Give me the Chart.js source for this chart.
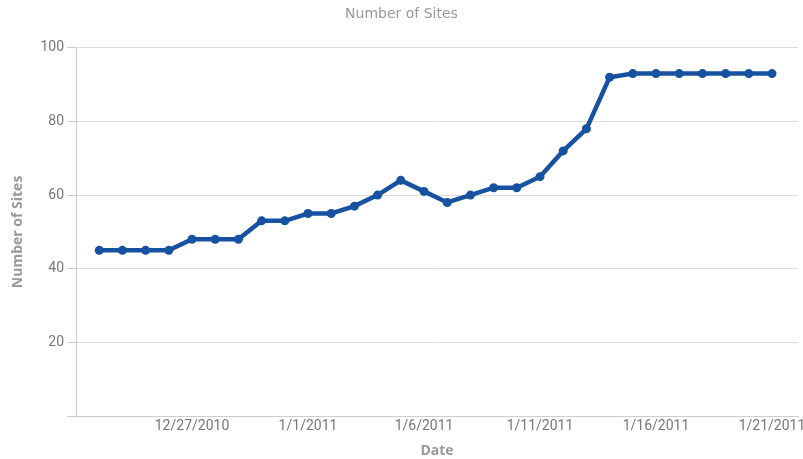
<!DOCTYPE html>
<html lang="en">
<head>
<meta charset="utf-8">
<title>Number of Sites</title>
<script src="https://cdn.jsdelivr.net/npm/chart.js@4"></script>
<style>
  html, body { margin: 0; padding: 0; background: #fff; }
  #wrap { position: relative; width: 803px; height: 459px; }
</style>
</head>
<body>
<div id="wrap"><canvas id="myChart"></canvas></div>
<script>
const dates = [
  '12/23/2010', '12/24/2010', '12/25/2010', '12/26/2010', '12/27/2010',
  '12/28/2010', '12/29/2010', '12/30/2010', '12/31/2010', '1/1/2011',
  '1/2/2011', '1/3/2011', '1/4/2011', '1/5/2011', '1/6/2011',
  '1/7/2011', '1/8/2011', '1/9/2011', '1/10/2011', '1/11/2011',
  '1/12/2011', '1/13/2011', '1/14/2011', '1/15/2011', '1/16/2011',
  '1/17/2011', '1/18/2011', '1/19/2011', '1/20/2011', '1/21/2011'
];
const sites = [
  45, 45, 45, 45, 48,
  48, 48, 53, 53, 55,
  55, 57, 60, 64, 61,
  58, 60, 62, 62, 65,
  72, 78, 92, 93, 93,
  93, 93, 93, 93, 93
];
const xTickLabels = ['12/27/2010', '1/1/2011', '1/6/2011', '1/11/2011', '1/16/2011', '1/21/2011'];
const yTicks = [0, 20, 40, 60, 80, 100];

const blue = 'rgb(22, 82, 160)';
const points = sites.map((v, i) => ({ x: i, y: v }));

new Chart(document.getElementById('myChart'), {
  type: 'line',
  data: {
    datasets: [{
      label: 'Number of Sites',
      data: points,
      borderColor: blue,
      backgroundColor: blue,
      borderWidth: 4.5,
      pointRadius: 4.5,
      pointBorderWidth: 0,
      tension: 0
    }]
  },
  options: {
    responsive: true,
    maintainAspectRatio: false,
    animation: false,
    layout: { padding: { left: 0, right: 0, top: 0, bottom: 0 } },
    plugins: {
      legend: { display: false },
      tooltip: { enabled: false },
      title: {
        display: true,
        text: 'Number of Sites',
        color: '#999',
        font: { family: 'DejaVu Sans', size: 14, weight: 'normal' },
        padding: { top: 6, bottom: 25 }
      }
    },
    scales: {
      x: {
        type: 'linear',
        min: -1,
        max: 30.12,
        afterBuildTicks: (s) => {
          s.ticks = xTickLabels.map(l => ({ value: dates.indexOf(l) }));
        },
        ticks: {
          color: '#777',
          font: { family: 'Liberation Sans Narrow, Roboto, sans-serif', size: 14 },
          padding: 2,
          maxRotation: 0,
          autoSkip: false,
          callback: (v) => dates[v]
        },
        grid: { display: false, drawTicks: false },
        border: { display: true, color: '#ccc', width: 1 },
        title: {
          display: true,
          text: 'Date',
          color: '#999',
          font: { family: 'Open Sans', size: 14, weight: 'bold' },
          padding: { top: 6, bottom: 0 }
        },
        afterFit: (s) => { s.height = 43; s.paddingRight = 5; }
      },
      y: {
        min: 0,
        max: 100,
        afterBuildTicks: (s) => {
          s.ticks = yTicks.map(v => ({ value: v }));
        },
        ticks: {
          color: '#777',
          font: { family: 'Roboto', size: 14 },
          padding: 3,
          callback: (v) => v === 0 ? '' : v
        },
        grid: { color: '#dcdcdc', lineWidth: 1, tickLength: 9, tickColor: '#ccc' },
        border: { display: true, color: '#ccc', width: 1 },
        title: {
          display: true,
          text: 'Number of Sites',
          color: '#999',
          font: { family: 'Open Sans', size: 14, weight: 'bold' },
          padding: { top: 10, bottom: 14 }
        },
        afterFit: (s) => { s.width = 76; }
      }
    }
  }
});
</script>
</body>
</html>
